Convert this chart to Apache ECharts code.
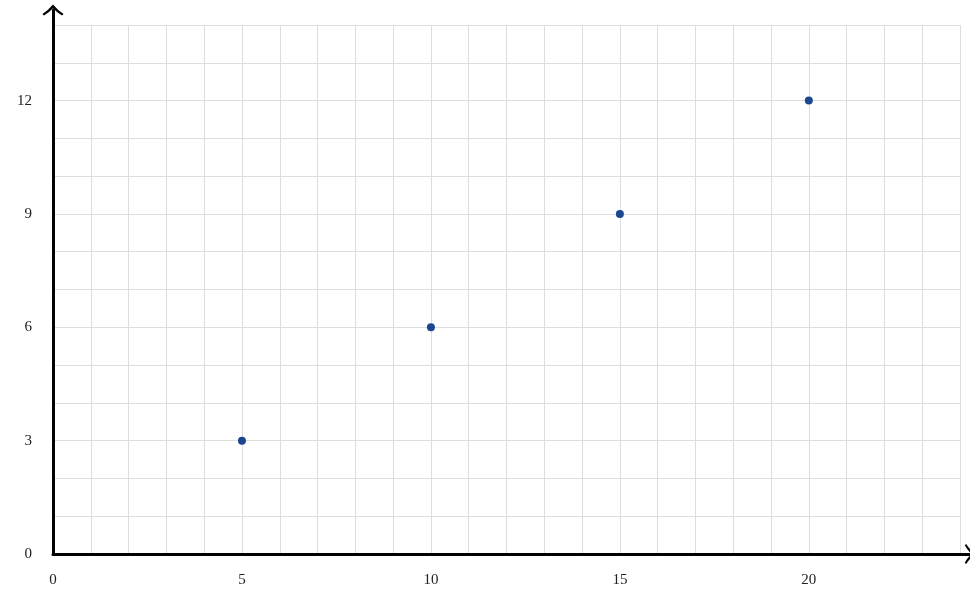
<!DOCTYPE html>
<html><head><meta charset="utf-8">
<script src="https://cdn.jsdelivr.net/npm/echarts@6/dist/echarts.min.js"></script>
<style>html,body{margin:0;padding:0;background:#fff}#c{width:970px;height:591px}</style>
</head><body><div id="c"></div>
<script>
var xValues = [5, 10, 15, 20];
var yValues = [3, 6, 9, 12];
var xLabelStep = 5;
var yLabelStep = 3;
var xMax = 24, yMax = 14;

var chart = echarts.init(document.getElementById('c'));
var font = "'Liberation Serif', 'DejaVu Serif', serif";
var chevron = 'path://M0,10 Q6,6 11,0 Q16,6 22,10 L20.5,11.5 Q15,8.5 11,4 Q7,8.5 1.5,11.5 Z';
chart.setOption({
  animation: false,
  grid: [
    {left: 53, right: 10, top: 25, bottom: 37},
    {left: 53, right: -7, top: 10, bottom: 37}
  ],
  xAxis: [
    {gridIndex: 0, type: 'value', min: 0, max: xMax, interval: 1,
     axisLine: {show: false}, axisTick: {show: false},
     splitLine: {show: true, lineStyle: {color: '#dddddd', width: 1}},
     axisLabel: {margin: 19, color: '#222', fontFamily: font, fontSize: 15,
       formatter: function (v) { return v % xLabelStep === 0 ? String(v) : ''; }}},
    {gridIndex: 1, type: 'value', min: 0, max: 1,
     axisLine: {show: true, symbol: ['none', chevron], symbolSize: [20, 11], symbolOffset: [0, 0],
       lineStyle: {color: '#000', width: 3}},
     axisTick: {show: false}, axisLabel: {show: false}, splitLine: {show: false}}
  ],
  yAxis: [
    {gridIndex: 0, type: 'value', min: 0, max: yMax, interval: 1,
     axisLine: {show: false}, axisTick: {show: false},
     splitLine: {show: true, lineStyle: {color: '#dddddd', width: 1}},
     axisLabel: {margin: 21, color: '#222', fontFamily: font, fontSize: 15,
       formatter: function (v) { return v % yLabelStep === 0 ? String(v) : ''; }}},
    {gridIndex: 1, type: 'value', min: 0, max: 1,
     axisLine: {show: true, symbol: ['none', chevron], symbolSize: [22, 11], symbolOffset: [0, 0],
       lineStyle: {color: '#000', width: 3}},
     axisTick: {show: false}, axisLabel: {show: false}, splitLine: {show: false}}
  ],
  series: [{
    type: 'scatter', xAxisIndex: 0, yAxisIndex: 0,
    symbolSize: 8,
    itemStyle: {color: '#1b4690', opacity: 1},
    data: xValues.map(function (x, i) { return [x, yValues[i]]; })
  }]
});
</script></body></html>
